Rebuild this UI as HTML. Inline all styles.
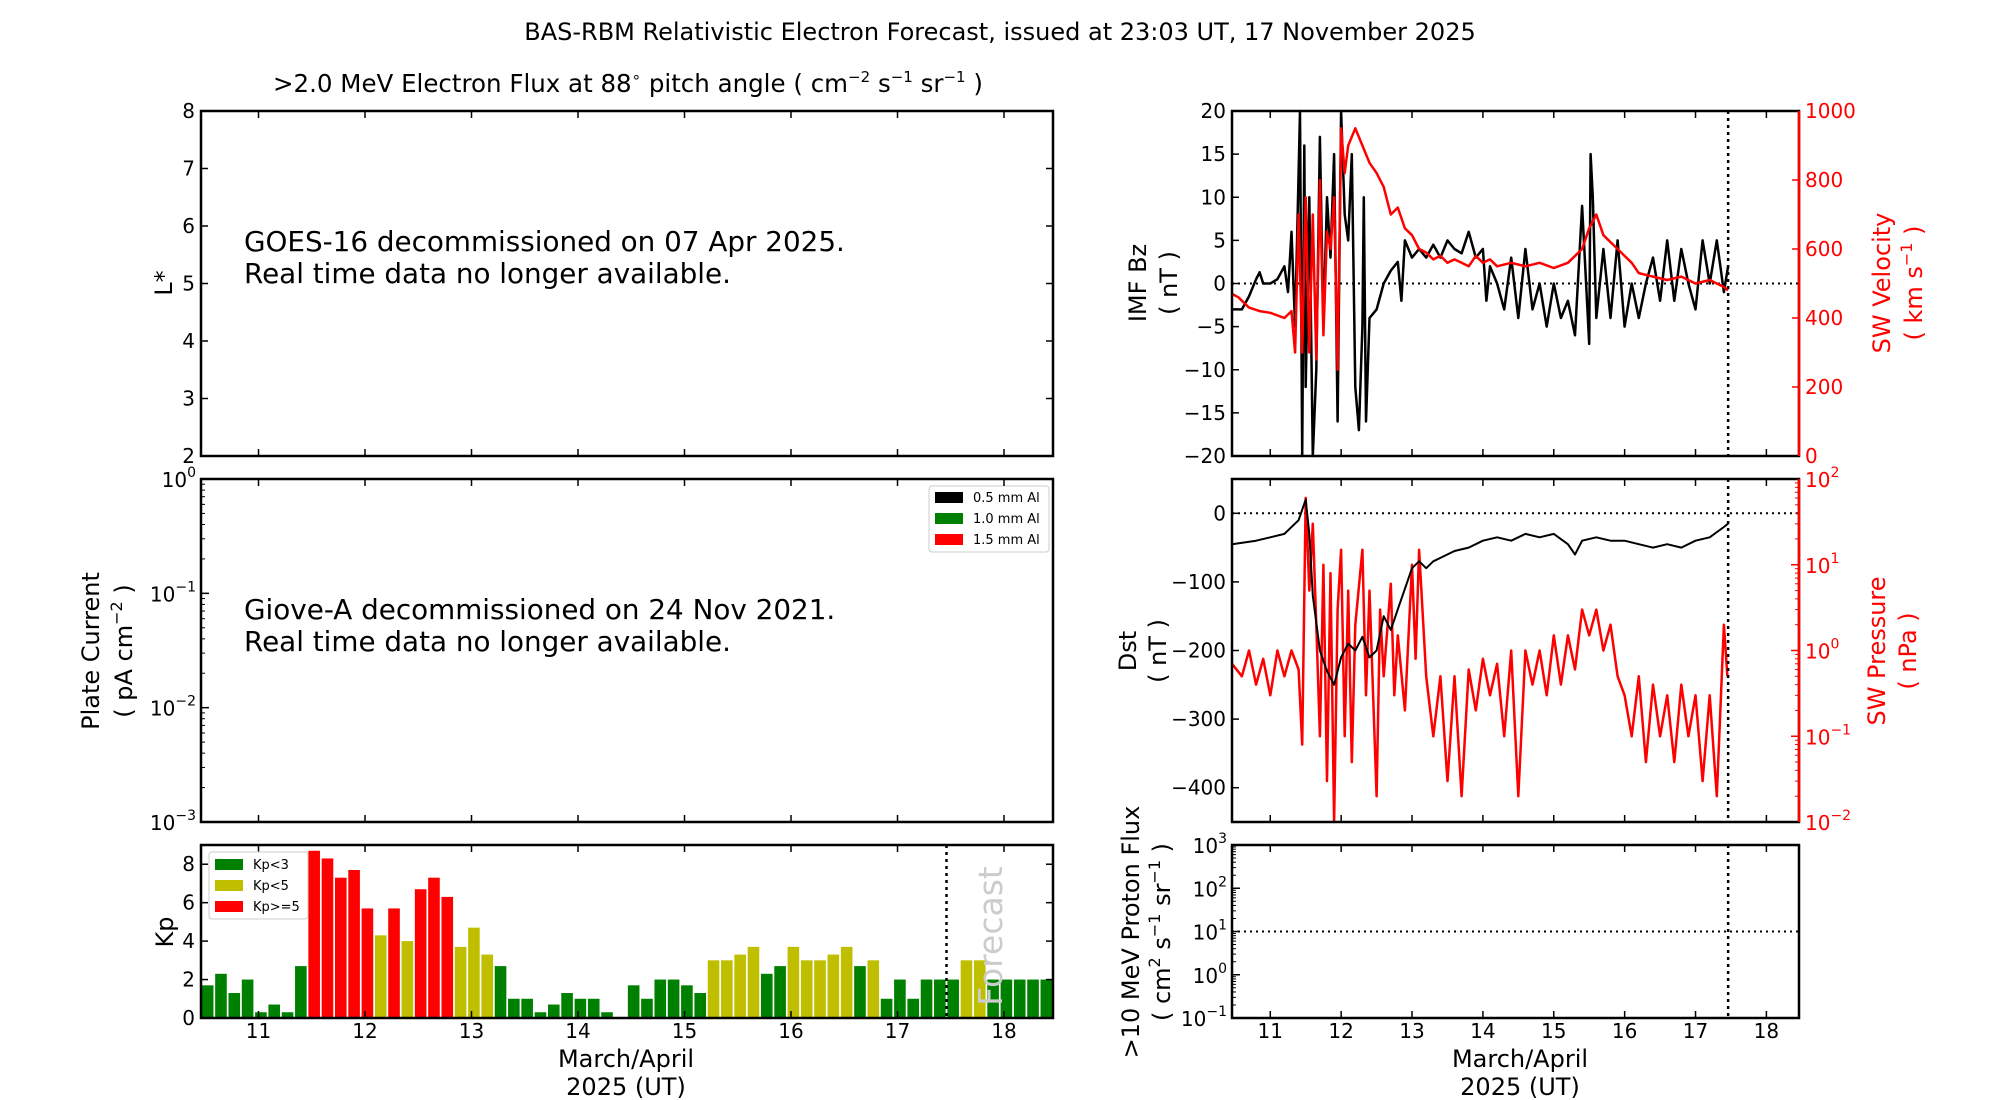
<!DOCTYPE html>
<html><head><meta charset="utf-8"><style>
body{margin:0;background:#fff;}
svg{display:block;font-family:"DejaVu Sans","Liberation Sans",sans-serif;}
</style></head><body>
<svg id="fig" width="2000" height="1100" viewBox="0 0 2000 1100">
<text x="1000" y="40" font-size="24" text-anchor="middle">BAS-RBM Relativistic Electron Forecast, issued at 23:03 UT, 17 November 2025</text>
<text x="628" y="92" font-size="24.5" text-anchor="middle">&gt;2.0 MeV Electron Flux at 88<tspan font-size="15" dy="-10">∘</tspan><tspan dy="10"> pitch angle ( cm</tspan><tspan font-size="15" dy="-10">−2</tspan><tspan dy="10"> s</tspan><tspan font-size="15" dy="-10">−1</tspan><tspan dy="10"> sr</tspan><tspan font-size="15" dy="-10">−1</tspan><tspan dy="10"> )</tspan></text>
<text x="244" y="251" font-size="27.8">GOES-16 decommissioned on 07 Apr 2025.</text>
<text x="244" y="283" font-size="27.8">Real time data no longer available.</text>
<text x="244" y="619" font-size="27.8">Giove-A decommissioned on 24 Nov 2021.</text>
<text x="244" y="651" font-size="27.8">Real time data no longer available.</text>
<text transform="translate(172,283) rotate(-90)" font-size="24" text-anchor="middle">L*</text>
<text transform="translate(99,651) rotate(-90)" font-size="24" text-anchor="middle">Plate Current</text>
<text transform="translate(132,651) rotate(-90)" font-size="24" text-anchor="middle">( pA cm<tspan font-size="16" dy="-10">−2</tspan><tspan dy="10"> )</tspan></text>
<text transform="translate(173,932) rotate(-90)" font-size="24" text-anchor="middle">Kp</text>
<text x="626" y="1067" font-size="24" text-anchor="middle">March/April</text>
<text x="626" y="1095" font-size="24" text-anchor="middle">2025 (UT)</text>
<text x="1520" y="1067" font-size="24" text-anchor="middle">March/April</text>
<text x="1520" y="1095" font-size="24" text-anchor="middle">2025 (UT)</text>
<text transform="translate(1146,283) rotate(-90)" font-size="24" text-anchor="middle">IMF Bz</text>
<text transform="translate(1177,283) rotate(-90)" font-size="24" text-anchor="middle">( nT )</text>
<text transform="translate(1890,283) rotate(-90)" font-size="24" fill="#f00" text-anchor="middle">SW Velocity</text>
<text transform="translate(1922,283) rotate(-90)" font-size="24" fill="#f00" text-anchor="middle">( km s<tspan font-size="16" dy="-10">−1</tspan><tspan dy="10"> )</tspan></text>
<text transform="translate(1136,651) rotate(-90)" font-size="24" text-anchor="middle">Dst</text>
<text transform="translate(1166,651) rotate(-90)" font-size="24" text-anchor="middle">( nT )</text>
<text transform="translate(1885,651) rotate(-90)" font-size="24" fill="#f00" text-anchor="middle">SW Pressure</text>
<text transform="translate(1916,651) rotate(-90)" font-size="24" fill="#f00" text-anchor="middle">( nPa )</text>
<text transform="translate(1139,932) rotate(-90)" font-size="24" text-anchor="middle">&gt;10 MeV Proton Flux</text>
<text transform="translate(1170,932) rotate(-90)" font-size="24" text-anchor="middle">( cm<tspan font-size="16" dy="-10">2</tspan><tspan dy="10"> s</tspan><tspan font-size="16" dy="-10">−1</tspan><tspan dy="10"> sr</tspan><tspan font-size="16" dy="-10">−1</tspan><tspan dy="10"> )</tspan></text>
<g>
<rect x="929" y="486" width="120" height="66" fill="#fff" stroke="#ccc" rx="3"/>
<rect x="935" y="492" width="28" height="11" fill="#000"/><text x="973" y="502" font-size="13">0.5 mm Al</text>
<rect x="935" y="513" width="28" height="11" fill="#008000"/><text x="973" y="523" font-size="13">1.0 mm Al</text>
<rect x="935" y="534" width="28" height="11" fill="#f00"/><text x="973" y="544" font-size="13">1.5 mm Al</text>
</g>
</svg>
<script>
const kpValues=[1.7,2.3,1.3,2.0,0.3,0.7,0.3,2.7,8.7,8.3,7.3,7.7,5.7,4.3,5.7,4.0,6.7,7.3,6.3,3.7,4.7,3.3,2.7,1.0,1.0,0.3,0.7,1.3,1.0,1.0,0.3,0,1.7,1.0,2.0,2.0,1.7,1.3,3.0,3.0,3.3,3.7,2.3,2.7,3.7,3.0,3.0,3.3,3.7,2.7,3.0,1.0,2.0,1.0,2.0,2.0,2.0,3.0,3.0,2.0,2.0,2.0,2.0,2.0];
const bzTimes=[10.46,10.6,10.7,10.8,10.85,10.9,11.0,11.1,11.2,11.25,11.3,11.35,11.42,11.45,11.48,11.5,11.55,11.6,11.65,11.7,11.75,11.8,11.85,11.9,11.95,12.0,12.05,12.1,12.15,12.2,12.25,12.3,12.32,12.35,12.4,12.5,12.6,12.7,12.8,12.85,12.9,13.0,13.1,13.2,13.3,13.4,13.5,13.6,13.7,13.8,13.9,14.0,14.05,14.1,14.2,14.3,14.4,14.5,14.6,14.7,14.8,14.9,15.0,15.1,15.2,15.3,15.4,15.5,15.52,15.55,15.6,15.7,15.8,15.9,16.0,16.1,16.2,16.3,16.4,16.5,16.6,16.7,16.8,16.9,17.0,17.1,17.2,17.3,17.4,17.46];
const bzValues=[-3,-3,-1.5,0.5,1.3,0,0,0.5,2,-1,6,-5,20,-20,16,-12,10,-20,-10,17,-5,10,3,15,-16,20,8,5,15,-12,-17,-5,10,-16,-4,-3,0,1.5,2.5,-2,5,3,4,3,4.5,3,5,4,3.5,6,3,4,-2,2,0,-3,3,-4,4,-3,0,-5,0,-4,-2,-6,9,-7,15,10,-4,4,-4,5,-5,0,-4,0,3,-2,5,-2,4,0,-3,5,0,5,-1,2];
const velTimes=[10.46,10.55,10.7,10.85,11.0,11.2,11.3,11.35,11.4,11.45,11.5,11.55,11.6,11.65,11.7,11.75,11.8,11.85,11.9,11.95,12.0,12.05,12.1,12.2,12.3,12.4,12.5,12.6,12.7,12.8,12.9,13.0,13.1,13.2,13.3,13.4,13.5,13.6,13.7,13.8,13.9,14.0,14.1,14.2,14.4,14.6,14.8,15.0,15.2,15.4,15.5,15.6,15.7,15.8,15.9,16.0,16.1,16.2,16.4,16.6,16.8,17.0,17.2,17.4,17.46];
const velValues=[470,460,430,420,415,400,420,300,700,300,750,300,700,280,800,350,650,600,750,250,950,820,900,950,900,850,820,780,700,720,660,640,600,590,570,580,560,570,560,550,580,560,570,550,560,550,560,545,560,600,660,700,640,620,600,580,560,530,520,510,520,500,510,490,480];
const dstTimes=[10.46,10.8,11.0,11.2,11.4,11.5,11.55,11.6,11.7,11.8,11.9,12.0,12.1,12.2,12.3,12.4,12.5,12.6,12.7,12.8,12.9,13.0,13.1,13.2,13.3,13.4,13.6,13.8,14.0,14.2,14.4,14.6,14.8,15.0,15.2,15.3,15.4,15.6,15.8,16.0,16.2,16.4,16.6,16.8,17.0,17.2,17.4,17.46];
const dstValues=[-45,-40,-35,-30,-10,20,-30,-120,-200,-230,-250,-210,-190,-200,-180,-210,-200,-150,-170,-140,-110,-80,-70,-80,-70,-65,-55,-50,-40,-35,-40,-30,-35,-30,-45,-60,-40,-35,-40,-40,-45,-50,-45,-50,-40,-35,-20,-15];
const presTimes=[10.46,10.6,10.7,10.8,10.9,11.0,11.1,11.2,11.3,11.4,11.45,11.5,11.55,11.6,11.65,11.7,11.75,11.8,11.85,11.9,11.95,12.0,12.05,12.1,12.15,12.2,12.3,12.35,12.4,12.5,12.55,12.6,12.7,12.75,12.8,12.9,13.0,13.05,13.1,13.2,13.3,13.4,13.5,13.6,13.7,13.8,13.9,14.0,14.1,14.2,14.3,14.4,14.5,14.6,14.7,14.8,14.9,15.0,15.1,15.2,15.3,15.4,15.5,15.6,15.7,15.8,15.9,16.0,16.1,16.2,16.3,16.4,16.5,16.6,16.7,16.8,16.9,17.0,17.1,17.2,17.3,17.4,17.45];
const presValues=[0.7,0.5,1.0,0.4,0.8,0.3,1.0,0.5,1.0,0.6,0.08,60,5,30,2,0.1,10,0.03,8,0.01,3,15,0.1,5,0.05,2,15,0.3,5,0.02,3,0.5,6,0.3,1.5,0.2,10,0.8,15,0.5,0.1,0.5,0.03,0.5,0.02,0.6,0.2,0.8,0.3,0.7,0.1,1,0.02,1.0,0.4,1.0,0.3,1.5,0.4,1.5,0.6,3,1.5,3,1,2,0.5,0.3,0.1,0.5,0.05,0.4,0.1,0.3,0.05,0.4,0.1,0.3,0.03,0.3,0.02,2,0.5];
const dayTicks=[11,12,13,14,15,16,17,18];
const lstarTicks=[2,3,4,5,6,7,8];
const kpTicks=[0,2,4,6,8];
const bzTicks=[-20,-15,-10,-5,0,5,10,15,20];
const velTicks=[0,200,400,600,800,1000];
const dstTicks=[-400,-300,-200,-100,0];
const X0=10.46,X1=18.46,NOW=17.46;

const svg=document.getElementById('fig');
const NS='http://www.w3.org/2000/svg';
function mk(tag,attrs,name,parent){
  const el=document.createElementNS(NS,tag);
  for(const k in attrs) el.setAttribute(k,attrs[k]);
  
  
  (parent||svg).appendChild(el);return el;
}
function panel(x,y,w,h,ymin,ymax,log){
  const p={x,y,w,h};
  p.sx=t=>x+(t-X0)/(X1-X0)*w;
  p.sy=v=>log? y+h-(Math.log10(v)-Math.log10(ymin))/(Math.log10(ymax)-Math.log10(ymin))*h : y+h-(v-ymin)/(ymax-ymin)*h;
  return p;
}
function frame(p,name,rightRed){
  mk('rect',{x:p.x,y:p.y,width:p.w,height:p.h,fill:'none',stroke:'#000','stroke-width':2.5},name+'-frame');
  if(rightRed) mk('line',{x1:p.x+p.w,y1:p.y,x2:p.x+p.w,y2:p.y+p.h,stroke:'#f00','stroke-width':2.5},name+'-right-spine');
}
function xticks(p,name,labels){
  dayTicks.forEach(d=>{const X=p.sx(d);
    mk('line',{x1:X,y1:p.y+p.h,x2:X,y2:p.y+p.h-7,stroke:'#000','stroke-width':1.5},name+'-xtick');
    mk('line',{x1:X,y1:p.y,x2:X,y2:p.y+7,stroke:'#000','stroke-width':1.5},name+'-xtick-top');
    if(labels){const t=mk('text',{x:X,y:p.y+p.h+20,'font-size':20,'text-anchor':'middle'},name+'-xtick-label');t.textContent=d;}
  });
}
function yticks(p,ticks,fn,name,side,color){
  ticks.forEach(v=>{const Y=fn(v);const X=side==='r'?p.x+p.w:p.x;const d=side==='r'?-7:7;
    mk('line',{x1:X,y1:Y,x2:X+d,y2:Y,stroke:color,'stroke-width':1.5},name+'-ytick');
    const t=mk('text',{x:side==='r'?X+6:X-6,y:Y+7,'font-size':20,'text-anchor':side==='r'?'start':'end',fill:color},name+'-ytick-label');
    t.textContent=String(v).replace('-','−');
  });
}
function logLabels(p,exps,fn,name,side,color){
  exps.forEach((e,i)=>{const Y=fn(Math.pow(10,e));const X=side==='r'?p.x+p.w:p.x;const d=side==='r'?-8:8;
    mk('line',{x1:X,y1:Y,x2:X+d,y2:Y,stroke:color,'stroke-width':1.5},name+'-ytick');
    if(i<exps.length-1) for(let m=2;m<10;m++){const Ym=fn(m*Math.pow(10,e));mk('line',{x1:X,y1:Ym,x2:X+d/2,y2:Ym,stroke:color,'stroke-width':1},name+'-minor-tick');}
    const t=mk('text',{x:side==='r'?X+6:X-5,y:Y+8,'font-size':20,'text-anchor':side==='r'?'start':'end',fill:color},name+'-ytick-label');
    t.textContent='10';
    const s=mk('tspan',{'font-size':14,dy:-10},name+'-ytick-exponent',t);s.textContent=String(e).replace('-','−');
  });
}
function series(p,ts,vs,fy,color,w,name){
  let d='';ts.forEach((t,i)=>{d+=(i?'L':'M')+p.sx(t).toFixed(1)+','+fy(vs[i]).toFixed(1);});
  mk('path',{d,fill:'none',stroke:color,'stroke-width':w,'stroke-linejoin':'round'},name);
}
function vline(p,name){const X=p.sx(NOW);mk('line',{x1:X,y1:p.y,x2:X,y2:p.y+p.h,stroke:'#000','stroke-width':2.5,'stroke-dasharray':'3,4'},name);}
function hline(p,Y,name){mk('line',{x1:p.x,y1:Y,x2:p.x+p.w,y2:Y,stroke:'#000','stroke-width':2,'stroke-dasharray':'2,4'},name);}

// left top L*
const L1=panel(201,111,852,345,2,8);
xticks(L1,'lstar',false);yticks(L1,lstarTicks,L1.sy,'lstar','l','#000');
lstarTicks.forEach(v=>mk('line',{x1:L1.x+L1.w,y1:L1.sy(v),x2:L1.x+L1.w-7,y2:L1.sy(v),stroke:'#000','stroke-width':1.5},'lstar-right-tick'));
frame(L1,'lstar-panel');
// left mid plate current
const L2=panel(201,479,852,343,1e-3,1,true);
xticks(L2,'plate',false);logLabels(L2,[-3,-2,-1,0],L2.sy,'plate','l','#000');frame(L2,'plate-current-panel');
// Kp
const L3=panel(201,845,852,173,0,9);
kpValues.forEach((v,i)=>{const t0=X0+i*0.125;const x=L3.sx(t0+0.008),w=L3.sx(t0+0.117)-x;
  const col=v<3?'#008000':(v<5?'#bfbf00':'#f00');
  mk('rect',{x,y:L3.sy(v),width:w,height:L3.sy(0)-L3.sy(v),fill:col},'kp-bar');});
xticks(L3,'kp',true);yticks(L3,kpTicks,L3.sy,'kp','l','#000');
kpTicks.forEach(v=>mk('line',{x1:L3.x+L3.w,y1:L3.sy(v),x2:L3.x+L3.w-7,y2:L3.sy(v),stroke:'#000','stroke-width':1.5},'kp-right-tick'));
vline(L3,'kp-now-line');frame(L3,'kp-panel');
const fc=mk('text',{transform:'translate(1002,936) rotate(-90)','font-size':33,fill:'#ccc','text-anchor':'middle'},'forecast-label');
fc.textContent='Forecast';
// Kp legend
const lg=mk('g',{},'kp-legend');
mk('rect',{x:209,y:852,width:99,height:67,fill:'#fff',stroke:'#ccc',rx:3},'kp-legend-box',lg);
[['#008000','Kp<3'],['#bfbf00','Kp<5'],['#f00','Kp>=5']].forEach((e,i)=>{
  mk('rect',{x:215,y:859+i*21,width:28,height:11,fill:e[0]},'kp-legend-swatch',lg);
  const t=mk('text',{x:253,y:869+i*21,'font-size':13},'kp-legend-label',lg);t.textContent=e[1];
});
// right top Bz/velocity
const R1=panel(1232,111,567,345,-20,20);const R1v=v=>R1.y+R1.h-v/1000*R1.h;
hline(R1,R1.sy(0),'bz-zero-line');
series(R1,bzTimes,bzValues,R1.sy,'#000',2.5,'imf-bz-line');
series(R1,velTimes,velValues,R1v,'#f00',2.5,'sw-velocity-line');
xticks(R1,'bz',false);yticks(R1,bzTicks,R1.sy,'bz','l','#000');yticks(R1,velTicks,R1v,'vel','r','#f00');
vline(R1,'bz-now-line');frame(R1,'bz-panel',true);
// right mid Dst/pressure
const R2=panel(1232,479,567,343,-450,50);const R2p=v=>R2.y+R2.h-(Math.log10(v)+2)/4*R2.h;
hline(R2,R2.sy(0),'dst-zero-line');
series(R2,presTimes,presValues,R2p,'#f00',2.5,'sw-pressure-line');
series(R2,dstTimes,dstValues,R2.sy,'#000',2,'dst-line');
xticks(R2,'dst',false);yticks(R2,dstTicks,R2.sy,'dst','l','#000');logLabels(R2,[-2,-1,0,1,2],R2p,'pres','r','#f00');
vline(R2,'dst-now-line');frame(R2,'dst-panel',true);
// right bottom proton
const R3=panel(1232,845,567,173,0.1,1000,true);
hline(R3,R3.sy(10),'proton-threshold-line');
xticks(R3,'proton',true);logLabels(R3,[-1,0,1,2,3],R3.sy,'proton','l','#000');
vline(R3,'proton-now-line');frame(R3,'proton-panel');
</script>
</body></html>
